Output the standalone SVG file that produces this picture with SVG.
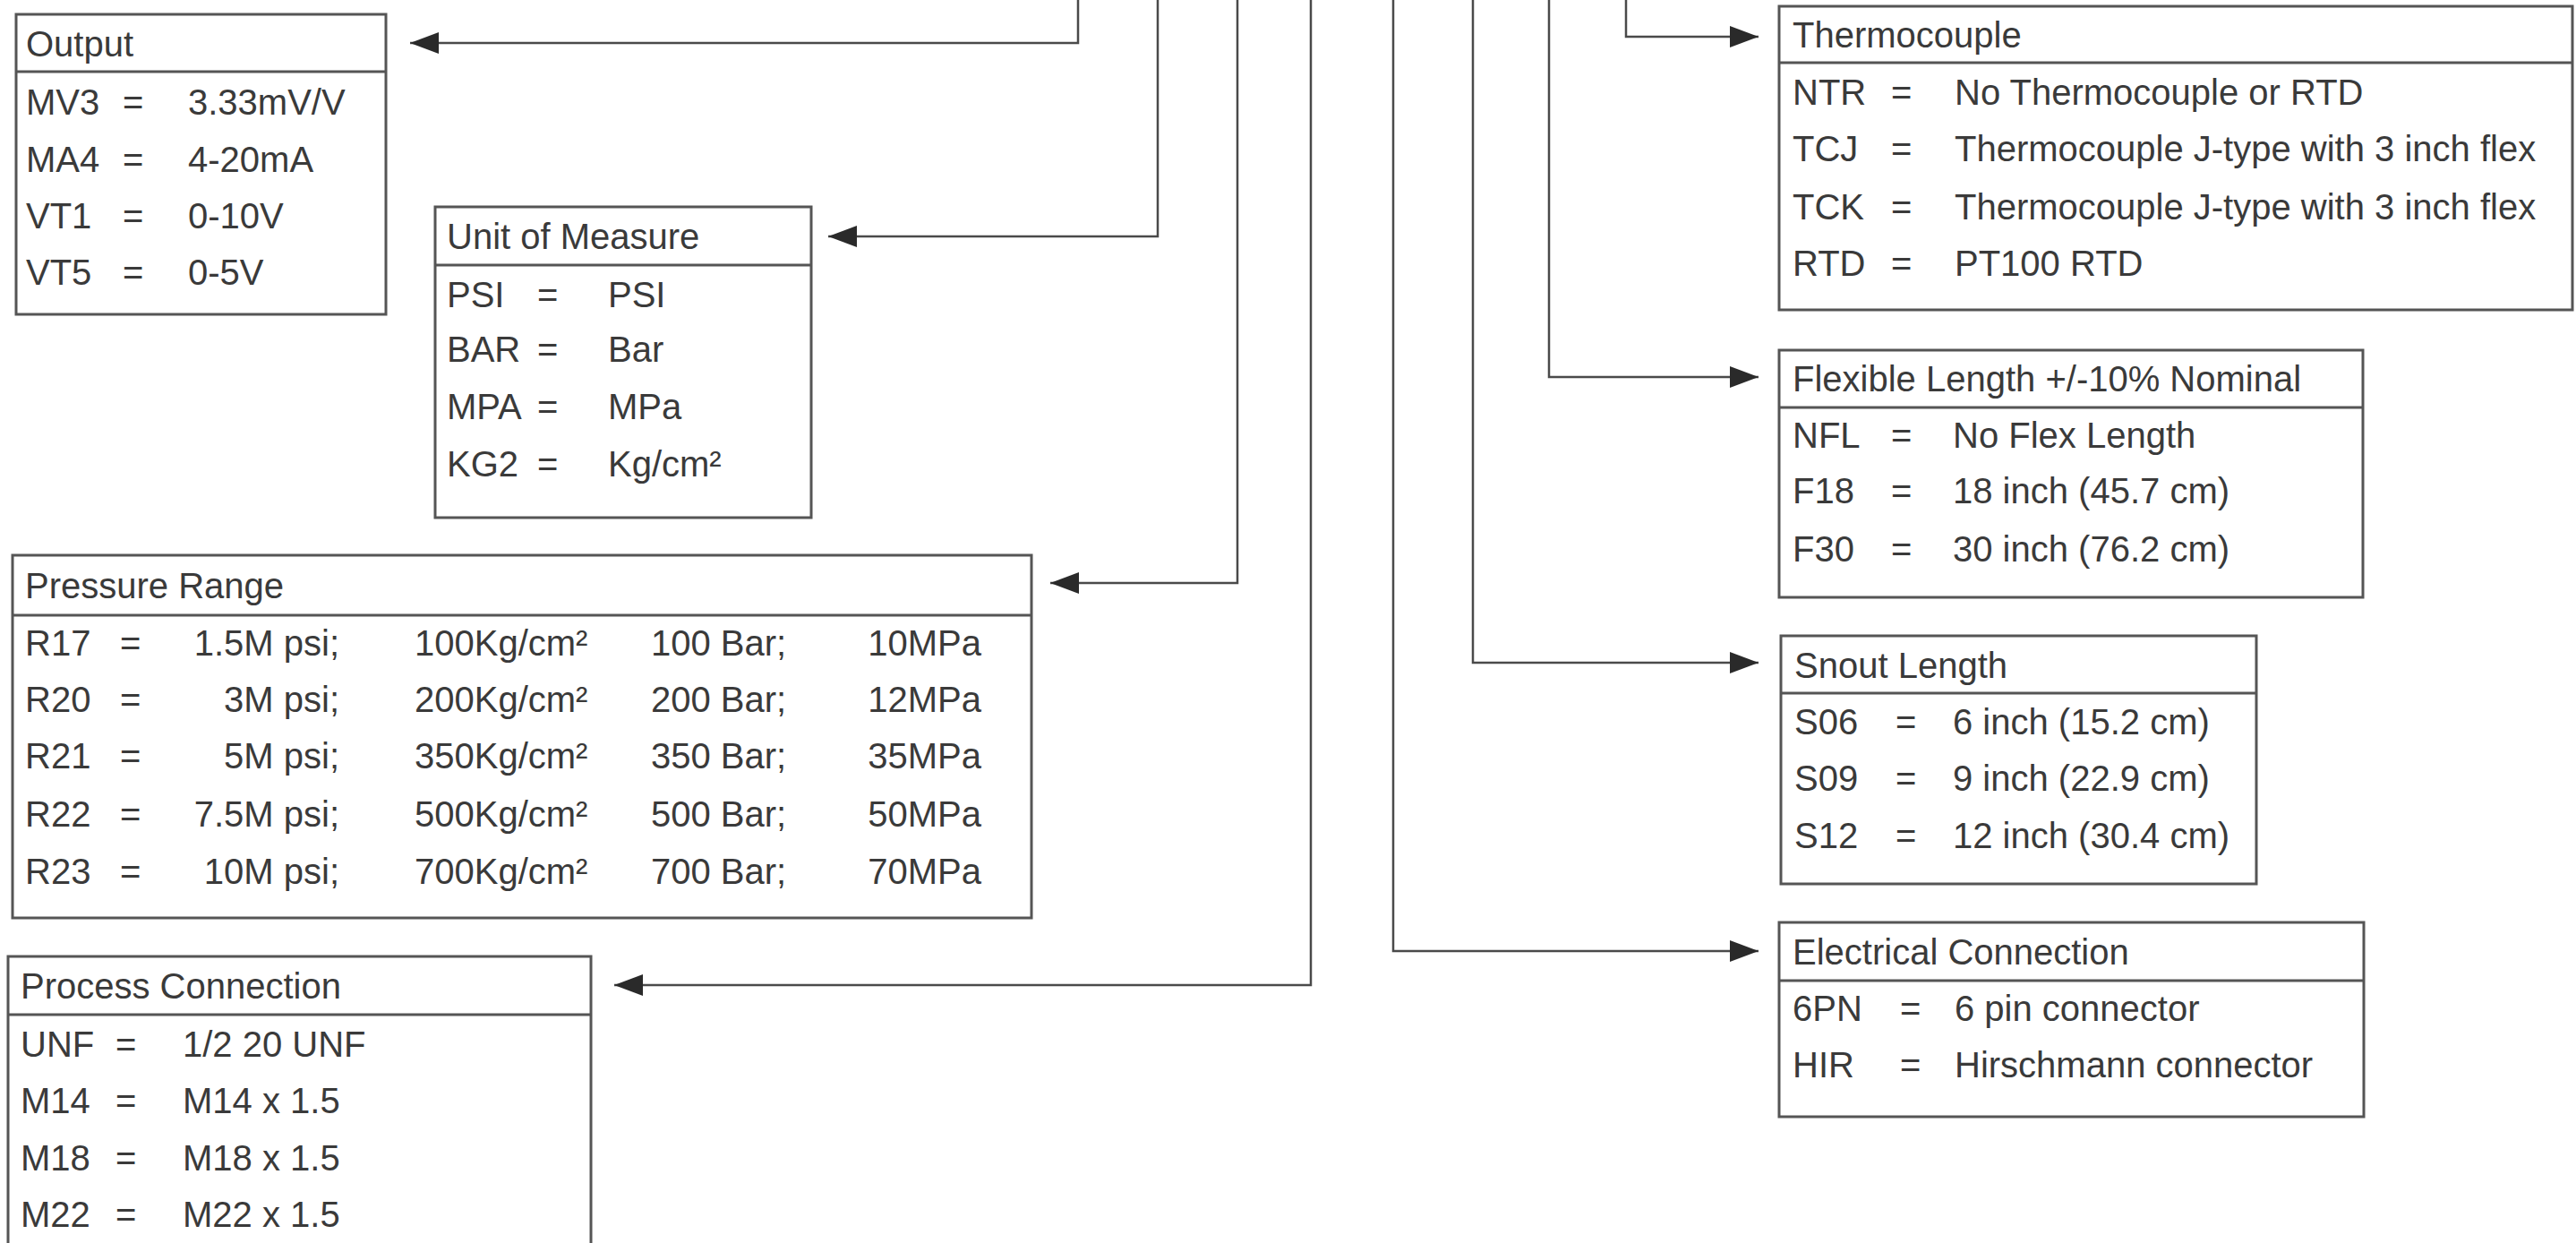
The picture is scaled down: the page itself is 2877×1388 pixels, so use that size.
<svg xmlns="http://www.w3.org/2000/svg" width="2877" height="1388" viewBox="0 0 2877 1388">
<style>
.bx{fill:#fff;stroke:#555;stroke-width:3}
.hd{stroke:#555;stroke-width:3}
.cn{fill:none;stroke:#4a4a4a;stroke-width:2.5}
text{font-family:"Liberation Sans",Arial,sans-serif;font-size:40px;fill:#3a3a3a}
.e{text-anchor:end}
</style>
<defs>
<marker id="ah" markerUnits="userSpaceOnUse" markerWidth="34" markerHeight="26" refX="32" refY="12" orient="auto">
<path d="M0,0 L32,12 L0,24 Z" fill="#2a2a2a"/>
</marker>
</defs>
<rect width="2877" height="1388" fill="#fff"/>
<g id="connectors">
<path class="cn" d="M1204,0 V48 H458" marker-end="url(#ah)"/>
<path class="cn" d="M1293,0 V264 H925" marker-end="url(#ah)"/>
<path class="cn" d="M1382,0 V651 H1173" marker-end="url(#ah)"/>
<path class="cn" d="M1464,0 V1100 H686" marker-end="url(#ah)"/>
<path class="cn" d="M1556,0 V1062 H1964" marker-end="url(#ah)"/>
<path class="cn" d="M1645,0 V740 H1964" marker-end="url(#ah)"/>
<path class="cn" d="M1730,0 V421 H1964" marker-end="url(#ah)"/>
<path class="cn" d="M1816,0 V41 H1964" marker-end="url(#ah)"/>
</g>
<g id="output">
<rect class="bx" x="18" y="16" width="413" height="335"/>
<line class="hd" x1="18" y1="80" x2="431" y2="80"/>
<text x="29" y="63">Output</text>
<text x="29" y="128">MV3</text><text x="137" y="128">=</text><text x="210" y="128">3.33mV/V</text>
<text x="29" y="192">MA4</text><text x="137" y="192">=</text><text x="210" y="192">4-20mA</text>
<text x="29" y="255">VT1</text><text x="137" y="255">=</text><text x="210" y="255">0-10V</text>
<text x="29" y="318">VT5</text><text x="137" y="318">=</text><text x="210" y="318">0-5V</text>
</g>
<g id="unit">
<rect class="bx" x="486" y="231" width="420" height="347"/>
<line class="hd" x1="486" y1="296" x2="906" y2="296"/>
<text x="499" y="278">Unit of Measure</text>
<text x="499" y="343">PSI</text><text x="600" y="343">=</text><text x="679" y="343">PSI</text>
<text x="499" y="404">BAR</text><text x="600" y="404">=</text><text x="679" y="404">Bar</text>
<text x="499" y="468">MPA</text><text x="600" y="468">=</text><text x="679" y="468">MPa</text>
<text x="499" y="532">KG2</text><text x="600" y="532">=</text><text x="679" y="532">Kg/cm²</text>
</g>
<g id="pressure">
<rect class="bx" x="14" y="620" width="1138" height="405"/>
<line class="hd" x1="14" y1="687" x2="1152" y2="687"/>
<text x="28" y="668">Pressure Range</text>
<text x="28" y="732">R17</text><text x="134" y="732">=</text><text class="e" x="379" y="732">1.5M psi;</text><text x="463" y="732">100Kg/cm²</text><text x="727" y="732">100 Bar;</text><text class="e" x="1096" y="732">10MPa</text>
<text x="28" y="795">R20</text><text x="134" y="795">=</text><text class="e" x="379" y="795">3M psi;</text><text x="463" y="795">200Kg/cm²</text><text x="727" y="795">200 Bar;</text><text class="e" x="1096" y="795">12MPa</text>
<text x="28" y="858">R21</text><text x="134" y="858">=</text><text class="e" x="379" y="858">5M psi;</text><text x="463" y="858">350Kg/cm²</text><text x="727" y="858">350 Bar;</text><text class="e" x="1096" y="858">35MPa</text>
<text x="28" y="923">R22</text><text x="134" y="923">=</text><text class="e" x="379" y="923">7.5M psi;</text><text x="463" y="923">500Kg/cm²</text><text x="727" y="923">500 Bar;</text><text class="e" x="1096" y="923">50MPa</text>
<text x="28" y="987">R23</text><text x="134" y="987">=</text><text class="e" x="379" y="987">10M psi;</text><text x="463" y="987">700Kg/cm²</text><text x="727" y="987">700 Bar;</text><text class="e" x="1096" y="987">70MPa</text>
</g>
<g id="process">
<rect class="bx" x="9" y="1068" width="651" height="400"/>
<line class="hd" x1="9" y1="1133" x2="660" y2="1133"/>
<text x="23" y="1115">Process Connection</text>
<text x="23" y="1180">UNF</text><text x="129" y="1180">=</text><text x="204" y="1180">1/2 20 UNF</text>
<text x="23" y="1243">M14</text><text x="129" y="1243">=</text><text x="204" y="1243">M14 x 1.5</text>
<text x="23" y="1307">M18</text><text x="129" y="1307">=</text><text x="204" y="1307">M18 x 1.5</text>
<text x="23" y="1370">M22</text><text x="129" y="1370">=</text><text x="204" y="1370">M22 x 1.5</text>
</g>
<g id="thermocouple">
<rect class="bx" x="1987" y="7" width="886" height="339"/>
<line class="hd" x1="1987" y1="70" x2="2873" y2="70"/>
<text x="2002" y="53">Thermocouple</text>
<text x="2002" y="117">NTR</text><text x="2112" y="117">=</text><text x="2183" y="117">No Thermocouple or RTD</text>
<text x="2002" y="180">TCJ</text><text x="2112" y="180">=</text><text x="2183" y="180">Thermocouple J-type with 3 inch flex</text>
<text x="2002" y="245">TCK</text><text x="2112" y="245">=</text><text x="2183" y="245">Thermocouple J-type with 3 inch flex</text>
<text x="2002" y="308">RTD</text><text x="2112" y="308">=</text><text x="2183" y="308">PT100 RTD</text>
</g>
<g id="flexible">
<rect class="bx" x="1987" y="391" width="652" height="276"/>
<line class="hd" x1="1987" y1="455" x2="2639" y2="455"/>
<text x="2002" y="437">Flexible Length +/-10% Nominal</text>
<text x="2002" y="500">NFL</text><text x="2112" y="500">=</text><text x="2181" y="500">No Flex Length</text>
<text x="2002" y="562">F18</text><text x="2112" y="562">=</text><text x="2181" y="562">18 inch (45.7 cm)</text>
<text x="2002" y="627">F30</text><text x="2112" y="627">=</text><text x="2181" y="627">30 inch (76.2 cm)</text>
</g>
<g id="snout">
<rect class="bx" x="1989" y="710" width="531" height="277"/>
<line class="hd" x1="1989" y1="774" x2="2520" y2="774"/>
<text x="2004" y="757">Snout Length</text>
<text x="2004" y="820">S06</text><text x="2117" y="820">=</text><text x="2181" y="820">6 inch (15.2 cm)</text>
<text x="2004" y="883">S09</text><text x="2117" y="883">=</text><text x="2181" y="883">9 inch (22.9 cm)</text>
<text x="2004" y="947">S12</text><text x="2117" y="947">=</text><text x="2181" y="947">12 inch (30.4 cm)</text>
</g>
<g id="electrical">
<rect class="bx" x="1987" y="1030" width="653" height="217"/>
<line class="hd" x1="1987" y1="1095" x2="2640" y2="1095"/>
<text x="2002" y="1077">Electrical Connection</text>
<text x="2002" y="1140">6PN</text><text x="2122" y="1140">=</text><text x="2183" y="1140">6 pin connector</text>
<text x="2002" y="1203">HIR</text><text x="2122" y="1203">=</text><text x="2183" y="1203">Hirschmann connector</text>
</g>
</svg>
